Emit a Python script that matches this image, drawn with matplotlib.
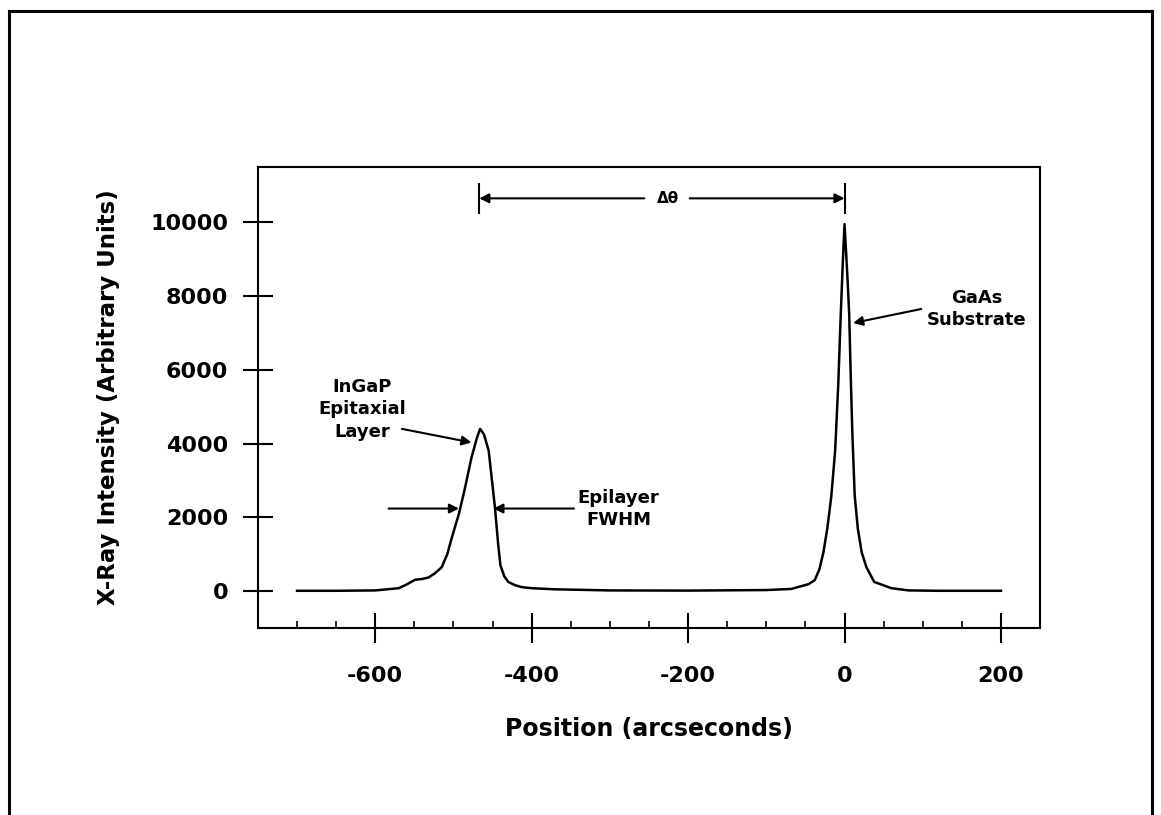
import matplotlib.pyplot as plt
from matplotlib.lines import Line2D
from matplotlib.ticker import MultipleLocator

plt.rcParams['font.family'] = ['DejaVu Sans']
plt.rcParams['font.weight'] = 'bold'
plt.rcParams['axes.unicode_minus'] = False

# rocking curve: InGaP epilayer peak near -467", GaAs substrate peak at 0"
position = [-700, -650, -600, -570, -560, -549, -540, -532, -524, -515,
            -508, -502, -493, -486, -477, -470, -466, -461, -455, -447,
            -443, -440, -435, -430, -421, -413, -400, -370, -300, -200,
            -100, -68, -46, -38, -32, -27, -22, -17, -12, -8,
            -5, -2, 0, 2, 4, 6, 8, 10, 13, 17,
            22, 28, 38, 60, 82, 120, 200]
intensity = [10, 10, 20, 80, 180, 310, 330, 370, 480, 650,
             1000, 1460, 2100, 2730, 3620, 4160, 4400, 4250, 3810, 2270,
             1300, 700, 400, 250, 160, 110, 80, 50, 20, 15,
             30, 60, 190, 300, 600, 1050, 1700, 2550, 3800, 5600,
             7400, 9000, 9950, 9200, 8400, 7500, 5800, 4300, 2600, 1700,
             1050, 650, 250, 80, 20, 10, 10]

x_ticks = [-600, -400, -200, 0, 200]
y_ticks = [0, 2000, 4000, 6000, 8000, 10000]

fig = plt.figure(figsize=(11.61, 8.15), dpi=100)
ax = fig.add_axes([0.2222, 0.2294, 0.6736, 0.5657])

# frame around the whole figure (bottom edge runs off the page)
for xs, ys in [([0.0078, 0.0078], [0.0, 0.9865]),
               ([0.0078, 0.9922], [0.9865, 0.9865]),
               ([0.9922, 0.9922], [0.9865, 0.0])]:
    fig.add_artist(Line2D(xs, ys, transform=fig.transFigure, color='black', lw=2.2))

ax.plot(position, intensity, color='black', lw=1.8)

ax.set_xlim(-750, 250)
ax.set_ylim(-1000, 11500)
ax.set_xticks(x_ticks)
ax.set_yticks(y_ticks)
ax.xaxis.set_minor_locator(MultipleLocator(50))
ax.tick_params(axis='both', which='major', direction='inout', length=21, width=1.5,
               labelsize=16)
ax.tick_params(axis='x', which='major', pad=17)
ax.tick_params(axis='y', which='major', pad=11)
ax.tick_params(axis='x', which='minor', direction='in', length=5, width=1.2)
for s in ax.spines.values():
    s.set_linewidth(1.5)

ax.set_xlabel('Position (arcseconds)', fontsize=17, fontweight='bold', labelpad=22)
ax.set_ylabel('X-Ray Intensity (Arbitrary Units)', fontsize=16.5, fontweight='bold', labelpad=22)

arrow = dict(arrowstyle='-|>', color='black', lw=1.5, mutation_scale=14, shrinkA=0, shrinkB=0)

# peak separation marker
ax.plot([-467, -467], [10250, 11050], color='black', lw=1.5)
ax.plot([0, 0], [10250, 11050], color='black', lw=1.5)
ax.annotate('', xy=(-467, 10650), xytext=(-256, 10650), arrowprops=arrow)
ax.annotate('', xy=(0, 10650), xytext=(-198, 10650), arrowprops=arrow)
ax.text(-226, 10650, 'Δθ', ha='center', va='center', fontsize=11, fontweight='bold')

# substrate label
ax.text(169, 7650, 'GaAs\nSubstrate', ha='center', va='center', fontsize=13,
        fontweight='bold', linespacing=1.3)
ax.annotate('', xy=(11, 7270), xytext=(98, 7650), arrowprops=arrow)

# epilayer label
ax.text(-617, 4930, 'InGaP\nEpitaxial\nLayer', ha='center', va='center', fontsize=13,
        fontweight='bold', linespacing=1.3)
ax.annotate('', xy=(-477, 4030), xytext=(-566, 4400), arrowprops=arrow)

# FWHM arrows
ax.annotate('', xy=(-493, 2240), xytext=(-583, 2240), arrowprops=arrow)
ax.annotate('', xy=(-449, 2240), xytext=(-346, 2240), arrowprops=arrow)
ax.text(-289, 2230, 'Epilayer\nFWHM', ha='center', va='center', fontsize=13,
        fontweight='bold', linespacing=1.3)

fig.savefig('out.png', dpi=100)
